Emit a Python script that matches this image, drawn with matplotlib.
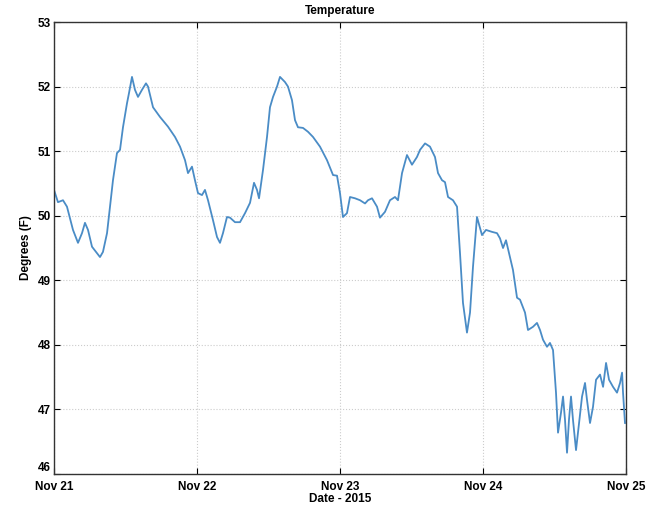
import pandas as pd
import matplotlib
matplotlib.use("Agg")
import matplotlib.pyplot as plt
import matplotlib.dates as mdates

# hours after Nov 21 2015 00:00
hours = [0.0, 0.67, 1.51, 2.18, 3.19, 4.03, 4.70, 5.20, 5.71, 6.38, 7.22, 7.72, 8.22, 8.90,
         9.40, 9.90, 10.57, 11.08, 11.58, 12.25, 12.59, 13.09, 13.59, 14.10, 14.77, 15.44,
         15.78, 16.62, 17.79, 19.13, 20.31, 21.15, 21.99, 22.49, 23.16, 23.66, 24.17, 24.84,
         25.34, 25.85, 26.69, 27.36, 27.86, 28.36, 29.03, 29.54, 30.38, 31.22, 32.06, 32.90,
         33.57, 34.07, 34.41, 35.08, 35.75, 36.25, 36.76, 37.43, 37.93, 38.77, 39.27, 39.94,
         40.45, 40.95, 41.79, 42.63, 43.47, 44.64, 45.82, 46.83, 47.50, 48.00, 48.50, 49.17,
         49.68, 50.52, 51.36, 52.20, 52.70, 53.37, 54.21, 54.71, 55.55, 56.39, 57.23, 57.73,
         58.41, 59.24, 60.08, 60.92, 61.43, 62.27, 63.10, 63.94, 64.45, 65.12, 65.62, 66.13,
         66.96, 67.64, 68.14, 68.64, 69.31, 69.82, 70.32, 70.99, 71.83, 72.50, 73.51, 74.35,
         74.85, 75.36, 75.86, 76.53, 77.03, 77.71, 78.21, 79.05, 79.55, 80.39, 81.06, 81.57,
         82.07, 82.74, 83.24, 83.75, 84.25, 84.59, 85.09, 85.43, 85.76, 86.10, 86.43, 86.77,
         87.10, 87.61, 87.94, 88.62, 89.12, 89.45, 89.96, 90.46, 90.97, 91.64, 92.15, 92.65,
         93.15, 93.82, 94.49, 95.00, 95.34, 95.50, 95.83]

temps = [50.40, 50.21, 50.24, 50.14, 49.78, 49.58, 49.73, 49.89, 49.78, 49.52, 49.42, 49.36,
         49.44, 49.73, 50.14, 50.55, 50.97, 51.02, 51.37, 51.74, 51.90, 52.15, 51.95, 51.84,
         51.95, 52.05, 52.00, 51.68, 51.53, 51.38, 51.22, 51.07, 50.86, 50.66, 50.76, 50.55,
         50.35, 50.32, 50.40, 50.24, 49.93, 49.67, 49.58, 49.73, 49.98, 49.97, 49.90, 49.90,
         50.04, 50.20, 50.51, 50.40, 50.27, 50.71, 51.22, 51.68, 51.84, 52.00, 52.15, 52.07,
         52.00, 51.79, 51.48, 51.37, 51.36, 51.30, 51.22, 51.07, 50.86, 50.63, 50.62, 50.35,
         49.98, 50.04, 50.29, 50.27, 50.24, 50.19, 50.24, 50.27, 50.14, 49.97, 50.06, 50.24,
         50.29, 50.24, 50.66, 50.94, 50.79, 50.91, 51.02, 51.12, 51.07, 50.91, 50.66, 50.55,
         50.52, 50.29, 50.24, 50.14, 49.42, 48.65, 48.19, 48.50, 49.21, 49.98, 49.70, 49.78,
         49.75, 49.73, 49.65, 49.50, 49.62, 49.36, 49.16, 48.73, 48.70, 48.50, 48.23, 48.28,
         48.34, 48.23, 48.08, 47.97, 48.03, 47.92, 47.26, 46.64, 46.95, 47.20, 46.84, 46.33,
         46.84, 47.20, 46.84, 46.37, 46.64, 47.20, 47.41, 47.15, 46.79, 47.04, 47.46, 47.54,
         47.35, 47.72, 47.46, 47.35, 47.26, 47.41, 47.57, 47.26, 46.79]

start = pd.Timestamp("2015-11-21")
times = start + pd.to_timedelta(hours, unit="h")

plt.rcParams['font.family'] = ['Liberation Sans', 'DejaVu Sans']

fig = plt.figure(figsize=(6.6, 5.12), dpi=100)
ax = fig.add_axes([0.0818, 0.0742, 0.8667, 0.8828])

ax.plot(times, temps, color='#4a8cc6', linewidth=1.3)

ax.set_xlim(start, start + pd.Timedelta(days=4))
ax.set_ylim(46, 53)
ax.xaxis.set_major_locator(mdates.DayLocator())
ax.xaxis.set_major_formatter(mdates.DateFormatter('%b %d'))

ax.grid(True, linestyle=':', color='#cccccc', linewidth=0.8)
ax.tick_params(direction='in', top=True, right=True, length=4, labelsize=8.5)
ax.tick_params(axis='x', pad=5)
ax.tick_params(axis='y', pad=2)
for lbl in ax.get_xticklabels() + ax.get_yticklabels():
    lbl.set_fontweight('bold')
# bottom y label sits a little higher, as in the original
ax.get_yticklabels()[0].set_verticalalignment('bottom')
for s in ax.spines.values():
    s.set_color('#333333')
    s.set_linewidth(1.0)

ax.set_title('Temperature', fontsize=8.5, fontweight='bold', pad=6)
ax.set_xlabel('Date - 2015', fontsize=8.5, fontweight='bold', labelpad=0)
ax.set_ylabel('Degrees (F)', fontsize=8.5, fontweight='bold', labelpad=4)

fig.savefig('out.png', dpi=100)
